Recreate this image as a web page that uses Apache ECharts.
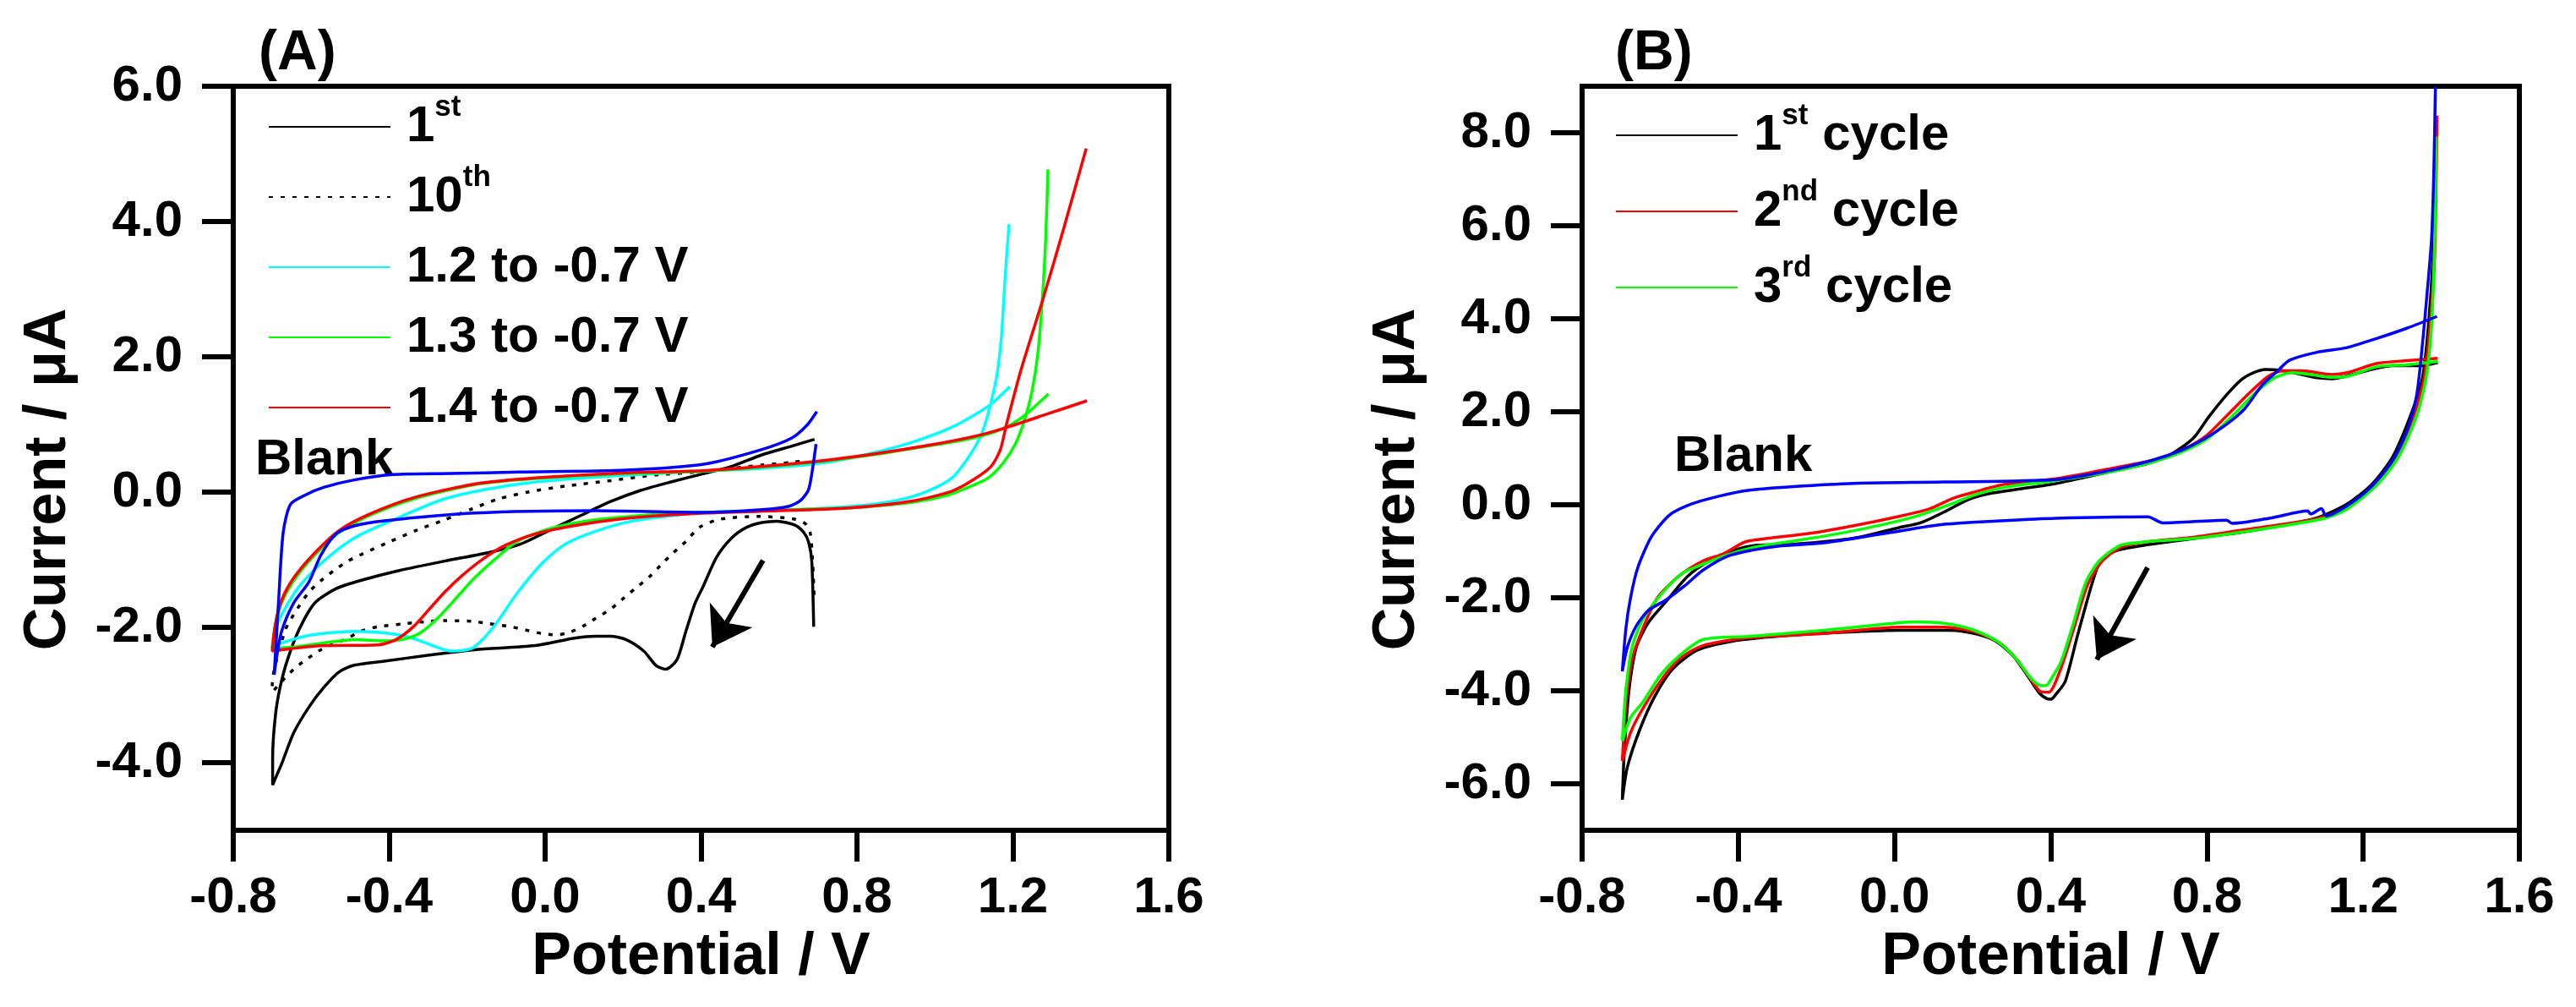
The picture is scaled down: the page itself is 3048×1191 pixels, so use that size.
<!DOCTYPE html>
<html>
<head>
<meta charset="utf-8">
<title>Cyclic voltammograms</title>
<script src="https://cdn.jsdelivr.net/npm/echarts@6/dist/echarts.min.js"></script>
<style>
    html, body { margin: 0; padding: 0; background: #fff; }
    #chart { width: 3048px; height: 1191px; }
</style>
</head>
<body>
<div id="chart"></div>
<script>
    // ---- tick labels ----
    var potentialTicks = [-0.8, -0.4, 0.0, 0.4, 0.8, 1.2, 1.6];
    var currentTicksA = [-4, -2, 0, 2, 4, 6];
    var currentTicksB = [-6, -4, -2, 0, 2, 4, 6, 8];

    // ---- panel (A): [potential V, current uA] ----
    var a1st = [
        [0.689, -1.99], [0.684, -1.02], [0.676, -0.74], [0.664, -0.60], [0.641, -0.49], [0.595, -0.43],
        [0.556, -0.45], [0.517, -0.52], [0.478, -0.68], [0.44, -0.96], [0.405, -1.40], [0.385, -1.64],
        [0.361, -2.06], [0.338, -2.48], [0.309, -2.62], [0.284, -2.56], [0.253, -2.35], [0.207, -2.18],
        [0.168, -2.13], [0.129, -2.13], [0.075, -2.16], [-0.026, -2.27], [-0.181, -2.33], [-0.297, -2.41],
        [-0.413, -2.50], [-0.49, -2.56], [-0.529, -2.66], [-0.568, -2.89], [-0.606, -3.18], [-0.645, -3.56],
        [-0.676, -4.02], [-0.688, -4.18], [-0.699, -4.33], [-0.699, -3.93], [-0.692, -3.31], [-0.68, -2.89],
        [-0.661, -2.48], [-0.63, -2.02], [-0.591, -1.64], [-0.537, -1.43], [-0.475, -1.31], [-0.374, -1.16],
        [-0.258, -1.02], [-0.142, -0.89], [-0.064, -0.77], [0.013, -0.56], [0.09, -0.35], [0.168, -0.14],
        [0.245, 0.025], [0.323, 0.15], [0.405, 0.27], [0.478, 0.38], [0.556, 0.55], [0.633, 0.68], [0.691, 0.78]
    ];
    var a10th = [
        [0.69, -1.52], [0.686, -1.00], [0.68, -0.60], [0.668, -0.47], [0.64, -0.40], [0.55, -0.36],
        [0.45, -0.40], [0.396, -0.52], [0.361, -0.73], [0.33, -0.89], [0.30, -1.06], [0.268, -1.25],
        [0.23, -1.43], [0.199, -1.58], [0.168, -1.73], [0.129, -1.87], [0.098, -1.98], [0.06, -2.08],
        [0.028, -2.11], [-0.01, -2.09], [-0.049, -2.04], [-0.088, -1.99], [-0.15, -1.94], [-0.188, -1.91],
        [-0.258, -1.90], [-0.297, -1.91], [-0.366, -1.95], [-0.428, -1.99], [-0.475, -2.06], [-0.506, -2.16],
        [-0.544, -2.25], [-0.575, -2.33], [-0.614, -2.48], [-0.645, -2.62], [-0.684, -2.85], [-0.699, -2.95],
        [-0.70, -2.85], [-0.668, -2.06], [-0.645, -1.81], [-0.606, -1.48], [-0.575, -1.31], [-0.537, -1.14],
        [-0.506, -1.02], [-0.467, -0.91], [-0.397, -0.73], [-0.328, -0.56], [-0.258, -0.41], [-0.188, -0.25],
        [-0.119, -0.10], [-0.041, 0.004], [0.052, 0.088], [0.168, 0.17], [0.284, 0.254], [0.405, 0.30],
        [0.478, 0.35], [0.556, 0.40], [0.633, 0.44], [0.672, 0.47]
    ];
    var a12 = [
        [1.192, 1.56], [1.137, 1.27], [1.044, 0.96], [0.943, 0.74], [0.827, 0.56], [0.711, 0.43],
        [0.556, 0.35], [0.401, 0.31], [0.284, 0.275], [0.052, 0.19], [-0.103, 0.088], [-0.258, -0.10],
        [-0.397, -0.43], [-0.49, -0.68], [-0.568, -1.02], [-0.63, -1.39], [-0.668, -1.73], [-0.692, -2.02],
        [-0.70, -2.31], [-0.684, -2.25], [-0.606, -2.12], [-0.49, -2.06], [-0.413, -2.08], [-0.351, -2.14],
        [-0.297, -2.25], [-0.243, -2.35], [-0.188, -2.31], [-0.157, -2.16], [-0.119, -1.89], [-0.08, -1.56],
        [-0.041, -1.27], [-0.002, -1.02], [0.052, -0.77], [0.129, -0.58], [0.222, -0.43], [0.323, -0.35],
        [0.414, -0.30], [0.633, -0.26], [0.788, -0.21], [0.904, -0.12], [0.982, 0.015], [1.044, 0.21],
        [1.09, 0.55], [1.121, 0.88], [1.144, 1.33], [1.16, 1.77], [1.171, 2.33], [1.18, 3.17], [1.19, 3.96]
    ];
    var a13 = [
        [1.291, 1.45], [1.229, 1.13], [1.175, 0.94], [1.098, 0.80], [0.982, 0.68], [0.827, 0.54],
        [0.672, 0.43], [0.414, 0.31], [0.207, 0.275], [-0.026, 0.20], [-0.181, 0.11], [-0.336, -0.10],
        [-0.452, -0.35], [-0.529, -0.60], [-0.591, -0.93], [-0.645, -1.31], [-0.676, -1.64], [-0.692, -1.98],
        [-0.70, -2.31], [-0.645, -2.29], [-0.568, -2.23], [-0.49, -2.18], [-0.413, -2.20], [-0.366, -2.18],
        [-0.32, -2.08], [-0.273, -1.85], [-0.227, -1.56], [-0.181, -1.27], [-0.126, -0.98], [-0.072, -0.73],
        [0.013, -0.54], [0.129, -0.41], [0.284, -0.33], [0.414, -0.30], [0.633, -0.26], [0.788, -0.23],
        [0.943, -0.15], [1.036, -0.04], [1.098, 0.10], [1.137, 0.21], [1.175, 0.43], [1.206, 0.71],
        [1.229, 1.05], [1.249, 1.49], [1.264, 2.05], [1.276, 2.89], [1.284, 3.73], [1.29, 4.77]
    ];
    var a14 = [
        [1.39, 1.35], [1.291, 1.16], [1.175, 0.94], [1.098, 0.82], [0.982, 0.69], [0.827, 0.55],
        [0.672, 0.44], [0.414, 0.32], [0.207, 0.285], [-0.026, 0.21], [-0.181, 0.12], [-0.336, -0.08],
        [-0.452, -0.33], [-0.529, -0.57], [-0.591, -0.90], [-0.645, -1.27], [-0.676, -1.60], [-0.692, -1.95],
        [-0.70, -2.35], [-0.645, -2.31], [-0.568, -2.27], [-0.43, -2.26], [-0.382, -2.18], [-0.336, -1.98],
        [-0.297, -1.73], [-0.258, -1.48], [-0.212, -1.23], [-0.157, -0.98], [-0.103, -0.79], [-0.026, -0.62],
        [0.09, -0.48], [0.245, -0.37], [0.414, -0.31], [0.633, -0.27], [0.788, -0.23], [0.943, -0.13],
        [1.044, 0.015], [1.098, 0.18], [1.144, 0.38], [1.168, 0.63], [1.183, 0.99], [1.222, 1.83],
        [1.276, 2.83], [1.33, 3.89], [1.388, 5.08]
    ];
    var aBlank = [
        [0.695, 0.71], [0.687, 0.38], [0.676, 0.04], [0.656, -0.12], [0.626, -0.21], [0.556, -0.26],
        [0.401, -0.30], [0.129, -0.275], [-0.181, -0.31], [-0.413, -0.425], [-0.49, -0.50], [-0.537, -0.62],
        [-0.575, -0.93], [-0.606, -1.33], [-0.645, -1.64], [-0.676, -2.06], [-0.689, -2.45], [-0.695, -2.70],
        [-0.684, -1.64], [-0.672, -0.60], [-0.653, -0.18], [-0.614, -0.04], [-0.568, 0.07], [-0.49, 0.18],
        [-0.39, 0.26], [-0.243, 0.275], [-0.064, 0.296], [0.207, 0.325], [0.414, 0.42], [0.556, 0.63],
        [0.633, 0.80], [0.672, 0.99], [0.697, 1.19]
    ];

    // ---- panel (B) ----
    var b1st = [
        [1.391, 3.06], [1.344, 2.99], [1.275, 2.99], [1.221, 2.91], [1.159, 2.77], [1.12, 2.71],
        [1.082, 2.73], [1.043, 2.80], [0.989, 2.89], [0.95, 2.91], [0.919, 2.84], [0.888, 2.69],
        [0.85, 2.36], [0.803, 1.87], [0.765, 1.43], [0.711, 1.10], [0.657, 0.91], [0.541, 0.69],
        [0.412, 0.455], [0.321, 0.34], [0.243, 0.24], [0.189, 0.11], [0.127, -0.155], [0.066, -0.39],
        [0.012, -0.49], [-0.104, -0.72], [-0.259, -0.85], [-0.352, -0.87], [-0.414, -0.98], [-0.475, -1.21],
        [-0.53, -1.54], [-0.584, -2.07], [-0.63, -2.53], [-0.661, -3.06], [-0.68, -3.99], [-0.692, -5.31],
        [-0.697, -6.34], [-0.684, -5.64], [-0.653, -4.85], [-0.614, -4.12], [-0.568, -3.53], [-0.506, -3.13],
        [-0.414, -2.93], [-0.259, -2.80], [-0.104, -2.73], [0.012, -2.70], [0.143, -2.70], [0.205, -2.77],
        [0.259, -2.93], [0.305, -3.26], [0.344, -3.72], [0.371, -4.05], [0.39, -4.17], [0.401, -4.18],
        [0.412, -4.09], [0.437, -3.80], [0.468, -2.83], [0.50, -1.86], [0.521, -1.32], [0.542, -1.10],
        [0.571, -0.98], [0.641, -0.87], [0.772, -0.72], [0.927, -0.54], [1.082, -0.28], [1.159, 0.02],
        [1.221, 0.43], [1.275, 1.02], [1.321, 1.91], [1.352, 2.73], [1.367, 3.84], [1.379, 5.33],
        [1.384, 6.81], [1.388, 8.30]
    ];
    var b2nd = [
        [1.391, 3.15], [1.313, 3.10], [1.236, 3.04], [1.159, 2.84], [1.12, 2.80], [1.043, 2.88],
        [0.997, 2.88], [0.958, 2.77], [0.912, 2.43], [0.85, 1.91], [0.796, 1.47], [0.734, 1.17],
        [0.657, 0.95], [0.541, 0.76], [0.412, 0.56], [0.282, 0.44], [0.205, 0.275], [0.15, 0.14],
        [0.089, -0.09], [0.012, -0.25], [-0.104, -0.45], [-0.22, -0.62], [-0.321, -0.72], [-0.383, -0.80],
        [-0.437, -1.05], [-0.491, -1.21], [-0.553, -1.54], [-0.607, -2.00], [-0.645, -2.67], [-0.672, -3.33],
        [-0.688, -4.32], [-0.697, -5.51], [-0.676, -4.90], [-0.645, -4.39], [-0.599, -3.79], [-0.553, -3.33],
        [-0.491, -3.03], [-0.375, -2.86], [-0.182, -2.77], [0.012, -2.63], [0.127, -2.63], [0.205, -2.73],
        [0.267, -2.96], [0.313, -3.33], [0.352, -3.79], [0.375, -4.02], [0.395, -4.03], [0.426, -3.52],
        [0.458, -2.69], [0.494, -1.73], [0.529, -1.24], [0.579, -0.91], [0.641, -0.80], [0.772, -0.69],
        [0.927, -0.50], [1.082, -0.30], [1.159, -0.06], [1.221, 0.39], [1.283, 1.02], [1.329, 1.91],
        [1.356, 2.73], [1.371, 3.84], [1.383, 5.33], [1.389, 8.37]
    ];
    var b3rd = [
        [1.391, 3.08], [1.313, 3.01], [1.236, 2.97], [1.159, 2.76], [1.12, 2.74], [1.066, 2.80],
        [1.02, 2.84], [0.973, 2.73], [0.927, 2.43], [0.865, 1.91], [0.803, 1.43], [0.734, 1.13],
        [0.657, 0.91], [0.541, 0.69], [0.412, 0.52], [0.282, 0.375], [0.205, 0.21], [0.143, 0.01],
        [0.066, -0.22], [-0.027, -0.42], [-0.143, -0.62], [-0.259, -0.78], [-0.352, -0.90], [-0.429, -1.08],
        [-0.491, -1.28], [-0.545, -1.48], [-0.599, -1.94], [-0.645, -2.47], [-0.672, -3.06], [-0.688, -3.99],
        [-0.697, -5.08], [-0.676, -4.58], [-0.645, -4.25], [-0.599, -3.66], [-0.553, -3.26], [-0.491, -2.90],
        [-0.375, -2.83], [-0.182, -2.70], [-0.027, -2.57], [0.05, -2.52], [0.127, -2.55], [0.205, -2.70],
        [0.267, -2.96], [0.313, -3.33], [0.352, -3.76], [0.375, -3.89], [0.39, -3.88], [0.398, -3.79],
        [0.426, -3.38], [0.458, -2.55], [0.49, -1.66], [0.525, -1.20], [0.579, -0.87], [0.641, -0.80],
        [0.772, -0.72], [0.927, -0.54], [1.097, -0.30], [1.159, -0.09], [1.236, 0.43], [1.29, 1.02],
        [1.337, 1.91], [1.361, 2.73], [1.375, 3.84], [1.383, 5.62], [1.387, 7.92]
    ];
    var bBlank = [
        [1.389, 4.05], [1.313, 3.80], [1.236, 3.58], [1.159, 3.38], [1.082, 3.28], [1.012, 3.11],
        [0.981, 2.88], [0.942, 2.58], [0.896, 2.06], [0.85, 1.73], [0.796, 1.43], [0.734, 1.17],
        [0.657, 0.95], [0.541, 0.72], [0.412, 0.54], [0.127, 0.49], [-0.104, 0.46], [-0.259, 0.39],
        [-0.375, 0.31], [-0.452, 0.18], [-0.522, 0.01], [-0.576, -0.22], [-0.622, -0.68], [-0.657, -1.34],
        [-0.676, -2.00], [-0.688, -2.67], [-0.697, -3.58], [-0.684, -3.06], [-0.661, -2.60], [-0.63, -2.27],
        [-0.584, -2.04], [-0.537, -1.74], [-0.491, -1.41], [-0.429, -1.11], [-0.367, -0.98], [-0.298, -0.89],
        [-0.182, -0.82], [-0.027, -0.62], [0.127, -0.42], [0.282, -0.34], [0.412, -0.29], [0.649, -0.26],
        [0.687, -0.39], [0.85, -0.33], [0.865, -0.40], [0.966, -0.28], [1.058, -0.13], [1.066, -0.20],
        [1.093, -0.08], [1.105, -0.24], [1.159, -0.02], [1.221, 0.39], [1.275, 0.95], [1.313, 1.61],
        [1.337, 2.36], [1.352, 3.47], [1.364, 4.58], [1.375, 5.70], [1.381, 7.18], [1.385, 8.98]
    ];

    // scan direction arrows: [start, end] in data coords
    var arrowA = [[0.559, -1.01], [0.429, -2.29]];
    var arrowB = [[0.648, -1.35], [0.518, -3.33]];

    var FONT = '"Liberation Sans", Arial, sans-serif';

    var legendText = {
        '1st': '1{sup|st}',
        '10th': '10{sup|th}',
        '1st cycle': '1{sup|st} cycle',
        '2nd cycle': '2{sup|nd} cycle',
        '3rd cycle': '3{sup|rd} cycle'
    };

    function tickLabel(v) {
        if (Math.abs(v) < 1e-9) v = 0;
        return v.toFixed(1);
    }

    function xAxisFor(gridIndex) {
        return {
            type: 'value',
            gridIndex: gridIndex,
            min: -0.8,
            max: 1.6,
            interval: 0.4,
            name: 'Potential / V',
            nameLocation: 'middle',
            nameGap: 116,
            nameTextStyle: { fontFamily: FONT, fontWeight: 'bold', fontSize: 70, color: '#000' },
            axisLine: { show: true, onZero: false, lineStyle: { color: '#000', width: 6 } },
            axisTick: {
                show: true, inside: false, length: 37, customValues: potentialTicks,
                lineStyle: { color: '#000', width: 6 }
            },
            axisLabel: {
                margin: 50, customValues: potentialTicks, fontFamily: FONT, fontWeight: 'bold',
                fontSize: 60, color: '#000', formatter: tickLabel
            },
            splitLine: { show: false }
        };
    }

    function yAxisFor(gridIndex, min, max, ticks) {
        return {
            type: 'value',
            gridIndex: gridIndex,
            min: min,
            max: max,
            name: 'Current / \u03bcA',
            nameLocation: 'middle',
            nameGap: 183,
            nameTextStyle: {
                fontFamily: FONT, fontWeight: 'bold', fontSize: 70, color: '#000',
                padding: [0, 50, 0, 0]
            },
            axisLine: { show: true, onZero: false, lineStyle: { color: '#000', width: 6 } },
            axisTick: {
                show: true, inside: false, length: 37, customValues: ticks,
                lineStyle: { color: '#000', width: 6 }
            },
            axisLabel: {
                margin: 60, customValues: ticks, fontFamily: FONT, fontWeight: 'bold',
                fontSize: 60, color: '#000', formatter: tickLabel
            },
            splitLine: { show: false }
        };
    }

    function curve(name, data, color, axisIndex, dashed) {
        return {
            name: name,
            type: 'line',
            xAxisIndex: axisIndex,
            yAxisIndex: axisIndex,
            data: data,
            symbol: 'none',
            smooth: 0.25,
            silent: true,
            lineStyle: { color: color, width: 3.5, type: dashed ? [5, 9] : 'solid' },
            itemStyle: { color: color }
        };
    }

    function arrow(series, coords) {
        series.markLine = {
            silent: true,
            symbol: ['none', 'arrow'],
            symbolSize: 44,
            label: { show: false },
            lineStyle: { color: '#000', width: 6, type: 'solid' },
            data: [[{ coord: coords[0] }, { coord: coords[1] }]]
        };
        return series;
    }

    function legendFor(names, left, top, gap) {
        return {
            data: names,
            orient: 'vertical',
            left: left,
            top: top,
            itemWidth: 144,
            itemHeight: 20,
            itemGap: gap,
            selectedMode: false,
            // draw only the line sample, no marker in its middle
            itemStyle: { opacity: 0 },
            formatter: function (name) { return legendText[name] || name; },
            textStyle: {
                fontFamily: FONT, fontWeight: 'bold', fontSize: 60, color: '#000',
                lineHeight: 80, padding: [0, 0, 0, 14],
                rich: {
                    sup: { fontFamily: FONT, fontWeight: 'bold', fontSize: 35, color: '#000',
                           verticalAlign: 'top', lineHeight: 40 }
                }
            }
        };
    }

    function label(text, x, y, size) {
        return {
            type: 'text',
            x: x,
            y: y,
            silent: true,
            style: {
                text: text,
                fill: '#000',
                font: 'bold ' + size + 'px ' + FONT,
                align: 'left',
                verticalAlign: 'middle'
            }
        };
    }

    var chart = echarts.init(document.getElementById('chart'), null, { renderer: 'canvas' });

    chart.setOption({
        animation: false,
        backgroundColor: '#fff',
        grid: [
            { left: 276, top: 102, width: 1107, height: 880, show: true, borderColor: '#000',
              borderWidth: 6, backgroundColor: 'transparent', outerBoundsMode: 'none' },
            { left: 1872, top: 102, width: 1109, height: 880, show: true, borderColor: '#000',
              borderWidth: 6, backgroundColor: 'transparent', outerBoundsMode: 'none' }
        ],
        xAxis: [xAxisFor(0), xAxisFor(1)],
        yAxis: [yAxisFor(0, -5, 6, currentTicksA), yAxisFor(1, -7, 9, currentTicksB)],
        legend: [
            legendFor(['1st', '10th', '1.2 to -0.7 V', '1.3 to -0.7 V', '1.4 to -0.7 V'], 312, 105, 3),
            legendFor(['1st cycle', '2nd cycle', '3rd cycle'], 1906, 115, 10)
        ],
        graphic: [
            label('(A)', 306, 64, 66),
            label('(B)', 1911, 64, 66),
            label('Blank', 302, 544, 60),
            label('Blank', 1981, 540, 60)
        ],
        series: [
            arrow(curve('1st', a1st, '#000000', 0, false), arrowA),
            curve('10th', a10th, '#000000', 0, true),
            curve('1.2 to -0.7 V', a12, '#00ffff', 0, false),
            curve('1.3 to -0.7 V', a13, '#00ff00', 0, false),
            curve('1.4 to -0.7 V', a14, '#ff0000', 0, false),
            curve('Blank A', aBlank, '#0000ff', 0, false),

            arrow(curve('1st cycle', b1st, '#000000', 1, false), arrowB),
            curve('2nd cycle', b2nd, '#ff0000', 1, false),
            curve('3rd cycle', b3rd, '#00ff00', 1, false),
            curve('Blank B', bBlank, '#0000ff', 1, false)
        ]
    });
</script>
</body>
</html>
